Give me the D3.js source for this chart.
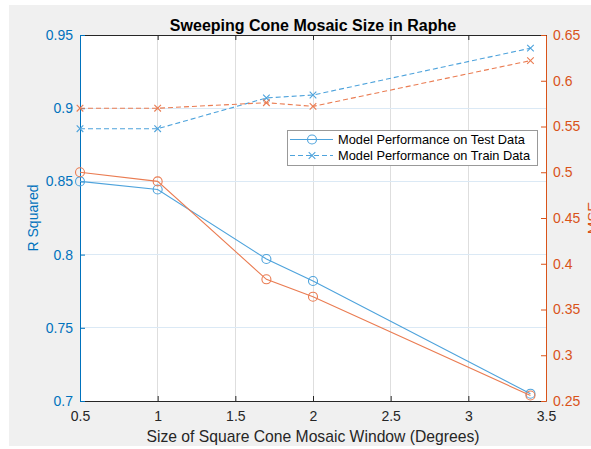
<!DOCTYPE html>
<html>
<head>
<meta charset="utf-8">
<script src="https://cdn.jsdelivr.net/npm/d3@7"></script>
<style>
  html, body { margin: 0; padding: 0; background: #ffffff; }
  svg { display: block; }
  text { font-family: "Liberation Sans", Arial, sans-serif; }
</style>
</head>
<body>
<svg id="chart" width="591" height="449"></svg>
<script>
// Window size (degrees) for each run
const windowSizes = [0.5, 1, 1.7, 2, 3.4];
// R squared (left axis)
const r2Test  = [0.850, 0.8445, 0.797, 0.782, 0.705];
const r2Train = [0.886, 0.886, 0.907, 0.909, 0.941];
// MSE (right axis)
const mseTest  = [0.500, 0.490, 0.383, 0.364, 0.256];
const mseTrain = [0.570, 0.570, 0.576, 0.572, 0.622];

const xTicks = [0.5, 1, 1.5, 2, 2.5, 3, 3.5];
const leftTicks = [0.7, 0.75, 0.8, 0.85, 0.9, 0.95];
const rightTicks = [0.25, 0.3, 0.35, 0.4, 0.45, 0.5, 0.55, 0.6, 0.65];

const titleText = "Sweeping Cone Mosaic Size in Raphe";
const xLabel = "Size of Square Cone Mosaic Window (Degrees)";
const leftLabel = "R Squared";
const rightLabel = "MSE";
const legendLabels = ["Model Performance on Test Data", "Model Performance on Train Data"];

const BLUE = "#0072BD", ORANGE = "#D95319", DARK = "#262626";
const BLUE_LINE = "#4ea3dc", ORANGE_LINE = "#ea7c52";

const svg = d3.select("#chart");
const plot = { left: 80, right: 546, top: 35, bottom: 401 };

// figure background
svg.append("rect").attr("x", 9).attr("y", 5).attr("width", 591 - 9).attr("height", 446 - 5)
  .attr("fill", "#f0f0f0");
svg.append("rect").attr("x", plot.left).attr("y", plot.top)
  .attr("width", plot.right - plot.left).attr("height", plot.bottom - plot.top)
  .attr("fill", "#ffffff");

const x = d3.scaleLinear().domain([0.5, 3.5]).range([plot.left, plot.right]);
const yL = d3.scaleLinear().domain([0.7, 0.95]).range([plot.bottom, plot.top]);
const yR = d3.scaleLinear().domain([0.25, 0.65]).range([plot.bottom, plot.top]);

// grid
const grid = svg.append("g");
grid.selectAll("line.gx").data(xTicks.slice(1, -1)).enter().append("line")
  .attr("x1", d => x(d)).attr("x2", d => x(d))
  .attr("y1", plot.top).attr("y2", plot.bottom)
  .attr("stroke", "#dedede").attr("stroke-width", 1).attr("shape-rendering", "crispEdges");
grid.selectAll("line.gy").data(leftTicks.slice(1, -1)).enter().append("line")
  .attr("x1", plot.left).attr("x2", plot.right)
  .attr("y1", d => yL(d)).attr("y2", d => yL(d))
  .attr("stroke", "#dbe9f5").attr("stroke-width", 1).attr("shape-rendering", "crispEdges");

const tickLen = 5;

// bottom axis
const xAxis = d3.axisBottom(x).tickValues(xTicks).tickSizeInner(-tickLen).tickSizeOuter(0)
  .tickPadding(10).tickFormat(d3.format("~g"));
const gx = svg.append("g").attr("transform", `translate(0,${plot.bottom})`).call(xAxis);
gx.select(".domain").attr("stroke", DARK);
gx.selectAll(".tick line").attr("stroke", DARK);
gx.selectAll(".tick text").attr("fill", DARK).attr("font-size", 14)
  .attr("font-family", "Liberation Sans, Arial, sans-serif");

// top axis (box)
const xTop = d3.axisTop(x).tickValues(xTicks).tickSizeInner(-tickLen).tickSizeOuter(0).tickFormat("");
const gxt = svg.append("g").attr("transform", `translate(0,${plot.top})`).call(xTop);
gxt.select(".domain").attr("stroke", DARK);
gxt.selectAll(".tick line").attr("stroke", DARK);

// left axis
const yAxisL = d3.axisLeft(yL).tickValues(leftTicks).tickSizeInner(-tickLen).tickSizeOuter(0)
  .tickPadding(7).tickFormat(d3.format("~g"));
const gl = svg.append("g").attr("transform", `translate(${plot.left},0)`).call(yAxisL);
gl.select(".domain").attr("stroke", BLUE);
gl.selectAll(".tick line").attr("stroke", BLUE);
gl.selectAll(".tick text").attr("fill", BLUE).attr("font-size", 14)
  .attr("font-family", "Liberation Sans, Arial, sans-serif");

// right axis
const yAxisR = d3.axisRight(yR).tickValues(rightTicks).tickSizeInner(-tickLen).tickSizeOuter(0)
  .tickPadding(7).tickFormat(d3.format("~g"));
const gr = svg.append("g").attr("transform", `translate(${plot.right},0)`).call(yAxisR);
gr.select(".domain").attr("stroke", ORANGE);
gr.selectAll(".tick line").attr("stroke", ORANGE);
gr.selectAll(".tick text").attr("fill", ORANGE).attr("font-size", 14)
  .attr("font-family", "Liberation Sans, Arial, sans-serif");

// series
function drawSeries(values, yScale, color, dashed, marker) {
  const pts = windowSizes.map((w, i) => [x(w), yScale(values[i])]);
  const g = svg.append("g");
  g.append("path").attr("d", d3.line()(pts)).attr("fill", "none")
    .attr("stroke", color).attr("stroke-width", 1.1)
    .attr("stroke-dasharray", dashed ? "5,3" : null);
  pts.forEach(p => drawMarker(g, p[0], p[1], color, marker));
}
function drawMarker(g, cx, cy, color, marker) {
  if (marker === "o") {
    g.append("circle").attr("cx", cx).attr("cy", cy).attr("r", 4.5)
      .attr("fill", "none").attr("stroke", color).attr("stroke-width", 1.1);
  } else {
    const s = 3.3;
    g.append("path").attr("d", `M${cx - s},${cy - s}L${cx + s},${cy + s}M${cx - s},${cy + s}L${cx + s},${cy - s}`)
      .attr("stroke", color).attr("stroke-width", 1.1);
  }
}
drawSeries(r2Test, yL, BLUE_LINE, false, "o");
drawSeries(r2Train, yL, BLUE_LINE, true, "x");
drawSeries(mseTest, yR, ORANGE_LINE, false, "o");
drawSeries(mseTrain, yR, ORANGE_LINE, true, "x");

// title and axis labels
svg.append("text").attr("x", (plot.left + plot.right) / 2).attr("y", 31)
  .attr("text-anchor", "middle").attr("font-size", 16).attr("font-weight", "bold")
  .attr("fill", "#000").text(titleText);
svg.append("text").attr("x", (plot.left + plot.right) / 2).attr("y", 442)
  .attr("text-anchor", "middle").attr("font-size", 15.7).attr("fill", DARK).text(xLabel);
svg.append("text").attr("transform", `translate(38,${(plot.top + plot.bottom) / 2}) rotate(-90)`)
  .attr("text-anchor", "middle").attr("font-size", 14).attr("fill", BLUE).text(leftLabel);
svg.append("text").attr("transform", `translate(598,${(plot.top + plot.bottom) / 2}) rotate(-90)`)
  .attr("text-anchor", "middle").attr("font-size", 15).attr("fill", ORANGE).text(rightLabel);

// legend
const lg = svg.append("g").attr("transform", "translate(287,130)");
lg.append("rect").attr("x", 0.5).attr("y", 0.5).attr("width", 250).attr("height", 35)
  .attr("fill", "#ffffff").attr("stroke", "#999999").attr("stroke-width", 1);
const legendItems = [
  { label: legendLabels[0], dashed: false, marker: "o" },
  { label: legendLabels[1], dashed: true, marker: "x" }
];
legendItems.forEach((it, i) => {
  const cy = 9.5 + i * 16;
  lg.append("line").attr("x1", 3).attr("x2", 46).attr("y1", cy).attr("y2", cy)
    .attr("stroke", BLUE_LINE).attr("stroke-width", 1.1)
    .attr("stroke-dasharray", it.dashed ? "5,3" : null);
  drawMarker(lg, 25, cy, BLUE_LINE, it.marker);
  lg.append("text").attr("x", 51).attr("y", cy + 4.5).attr("font-size", 12.8)
    .attr("fill", "#000").text(it.label);
});
</script>
</body>
</html>
